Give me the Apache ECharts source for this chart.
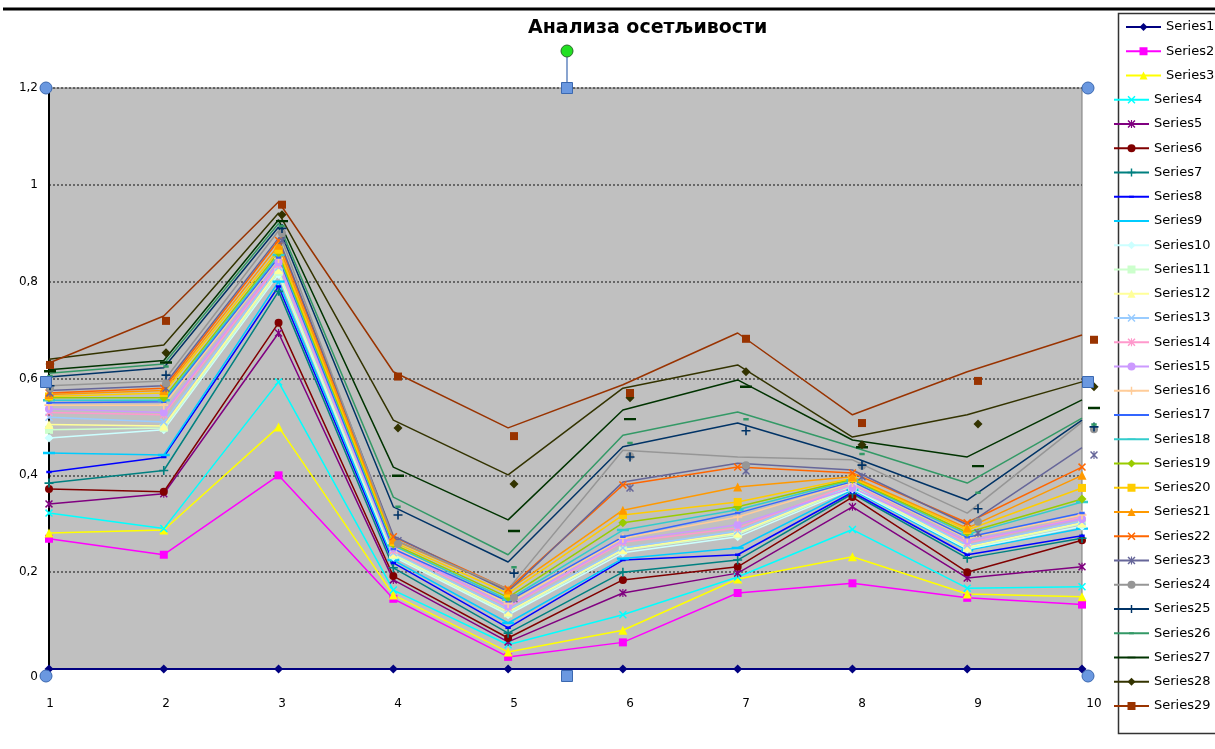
<!DOCTYPE html>
<html>
<head>
<meta charset="utf-8">
<script src="https://cdn.jsdelivr.net/npm/echarts@6/dist/echarts.min.js"></script>
<style>
  html, body { margin: 0; padding: 0; background: #fff; }
  #chart { width: 1215px; height: 749px; }
</style>
</head>
<body>
<div id="chart"></div>
<script>
// ---- data ----
const categories = ['1', '2', '3', '4', '5', '6', '7', '8', '9', '10'];
const chartTitle = 'Анализа осетљивости';

// line values, one array per series
const s1  = [0, 0, 0, 0, 0, 0, 0, 0, 0, 0];
const s2  = [0.269, 0.236, 0.400, 0.145, 0.025, 0.055, 0.157, 0.177, 0.147, 0.133];
const s3  = [0.281, 0.287, 0.500, 0.153, 0.035, 0.080, 0.186, 0.232, 0.155, 0.149];
const s4  = [0.322, 0.290, 0.593, 0.163, 0.050, 0.112, 0.190, 0.288, 0.167, 0.170];
const s5  = [0.341, 0.362, 0.694, 0.184, 0.056, 0.157, 0.198, 0.335, 0.188, 0.211];
const s6  = [0.372, 0.366, 0.715, 0.192, 0.064, 0.184, 0.211, 0.355, 0.200, 0.266];
const s7  = [0.384, 0.410, 0.780, 0.209, 0.074, 0.200, 0.225, 0.362, 0.229, 0.270];
const s8  = [0.407, 0.438, 0.790, 0.219, 0.085, 0.225, 0.236, 0.365, 0.236, 0.275];
const s9  = [0.446, 0.442, 0.800, 0.225, 0.095, 0.228, 0.250, 0.370, 0.245, 0.290];
const s10 = [0.477, 0.494, 0.815, 0.232, 0.112, 0.240, 0.273, 0.372, 0.248, 0.295];
const s11 = [0.494, 0.498, 0.820, 0.235, 0.115, 0.245, 0.278, 0.375, 0.250, 0.300];
const s12 = [0.505, 0.502, 0.825, 0.238, 0.118, 0.247, 0.281, 0.378, 0.252, 0.302];
const s13 = [0.520, 0.510, 0.830, 0.240, 0.122, 0.250, 0.285, 0.380, 0.255, 0.305];
const s14 = [0.530, 0.525, 0.835, 0.245, 0.128, 0.262, 0.291, 0.382, 0.260, 0.314];
const s15 = [0.537, 0.530, 0.840, 0.250, 0.130, 0.265, 0.298, 0.374, 0.265, 0.310];
const s16 = [0.545, 0.545, 0.848, 0.253, 0.135, 0.270, 0.314, 0.385, 0.270, 0.318];
const s17 = [0.550, 0.552, 0.850, 0.248, 0.140, 0.273, 0.322, 0.387, 0.272, 0.322];
const s18 = [0.555, 0.555, 0.855, 0.255, 0.143, 0.287, 0.329, 0.390, 0.278, 0.345];
const s19 = [0.560, 0.560, 0.860, 0.258, 0.148, 0.302, 0.335, 0.392, 0.282, 0.351];
const s20 = [0.563, 0.570, 0.866, 0.262, 0.156, 0.318, 0.345, 0.394, 0.287, 0.374];
const s21 = [0.567, 0.575, 0.875, 0.267, 0.163, 0.328, 0.376, 0.397, 0.291, 0.400];
const s22 = [0.570, 0.580, 0.885, 0.273, 0.165, 0.380, 0.417, 0.405, 0.302, 0.417];
const s23 = [0.575, 0.585, 0.890, 0.275, 0.160, 0.386, 0.425, 0.411, 0.298, 0.457];
const s24 = [0.585, 0.595, 0.905, 0.268, 0.165, 0.452, 0.438, 0.432, 0.322, 0.510];
const s25 = [0.603, 0.622, 0.913, 0.335, 0.221, 0.459, 0.508, 0.438, 0.349, 0.514];
const s26 = [0.611, 0.630, 0.920, 0.355, 0.236, 0.483, 0.531, 0.459, 0.384, 0.518];
const s27 = [0.618, 0.637, 0.928, 0.417, 0.308, 0.535, 0.597, 0.473, 0.438, 0.556];
const s28 = [0.640, 0.669, 0.942, 0.514, 0.401, 0.580, 0.628, 0.479, 0.525, 0.593];
const s29 = [0.632, 0.729, 0.965, 0.614, 0.498, 0.587, 0.694, 0.525, 0.614, 0.690];

// marker values of series 23–29, plotted on the second axis pair
const m23 = [0.570, 0.580, 0.885, 0.265, 0.145, 0.374, 0.409, 0.397, 0.281, 0.442];
const m24 = [0.580, 0.590, 0.900, 0.258, 0.147, 0.440, 0.421, 0.420, 0.304, 0.495];
const m25 = [0.585, 0.607, 0.910, 0.318, 0.198, 0.438, 0.492, 0.421, 0.331, 0.500];
const m26 = [0.605, 0.625, 0.915, 0.335, 0.210, 0.467, 0.516, 0.444, 0.364, 0.505];
const m27 = [0.615, 0.633, 0.925, 0.399, 0.285, 0.516, 0.583, 0.458, 0.419, 0.539];
const m28 = [0.630, 0.653, 0.938, 0.498, 0.382, 0.560, 0.614, 0.463, 0.506, 0.583];
const m29 = [0.628, 0.719, 0.959, 0.604, 0.481, 0.570, 0.682, 0.508, 0.595, 0.680];

const lineSets = [s1, s2, s3, s4, s5, s6, s7, s8, s9, s10, s11, s12, s13, s14, s15,
  s16, s17, s18, s19, s20, s21, s22, s23, s24, s25, s26, s27, s28, s29];
const markerSets = [m23, m24, m25, m26, m27, m28, m29];
const firstMarkerSeries = 23;

// ---- styles ----
const colors = ['#000080', '#FF00FF', '#FFFF00', '#00FFFF', '#800080', '#800000', '#008080',
  '#0000FF', '#00CCFF', '#CCFFFF', '#CCFFCC', '#FFFF99', '#99CCFF', '#FF99CC', '#CC99FF',
  '#FFCC99', '#3366FF', '#33CCCC', '#99CC00', '#FFCC00', '#FF9900', '#FF6600', '#666699',
  '#969696', '#003366', '#339966', '#003300', '#333300', '#993300'];

const X_PATH = 'path://M0,1.3L1.3,0L5,3.7L8.7,0L10,1.3L6.3,5L10,8.7L8.7,10L5,6.3L1.3,10L0,8.7L3.7,5Z';
const STAR_PATH = X_PATH.replace('Z', 'Z') + 'M4.3,0L5.7,0L5.7,10L4.3,10Z';
const PLUS_PATH = 'path://M4.1,0L5.9,0L5.9,4.1L10,4.1L10,5.9L5.9,5.9L5.9,10L4.1,10L4.1,5.9L0,5.9L0,4.1L4.1,4.1Z';
const DASH_PATH = 'path://M0,0L0,0ZM2,3.6L8,3.6L8,6.4L2,6.4ZM10,10L10,10Z';
const LDASH_PATH = 'path://M0,0L0,0ZM0,4L10,4L10,6L0,6ZM10,10L10,10Z';

const markerCycle = [
  { symbol: 'diamond', size: 9 },
  { symbol: 'rect', size: 8 },
  { symbol: 'triangle', size: 9 },
  { symbol: X_PATH, size: 8 },
  { symbol: STAR_PATH, size: 8 },
  { symbol: 'circle', size: 8 },
  { symbol: PLUS_PATH, size: 9 },
  { symbol: DASH_PATH, size: 9 },
  { symbol: LDASH_PATH, size: 12 }
];

const FONT = 'DejaVu Sans';
const names = lineSets.map((_, i) => 'Series' + (i + 1));

// ---- series ----
const series = [];
lineSets.forEach((vals, i) => {
  const mk = markerCycle[i % markerCycle.length];
  const offset = (i + 1) >= firstMarkerSeries;
  series.push({
    name: names[i],
    type: 'line',
    xAxisIndex: 0,
    yAxisIndex: 0,
    data: vals,
    symbol: mk.symbol,
    symbolSize: mk.size,
    showSymbol: !offset,
    showAllSymbol: true,
    clip: false,
    color: colors[i],
    lineStyle: { width: i === 0 ? 2 : 1.5, color: colors[i] },
    itemStyle: { color: colors[i] },
    emphasis: { disabled: true },
    animation: false
  });
});
markerSets.forEach((vals, j) => {
  const i = firstMarkerSeries - 1 + j;
  const mk = markerCycle[i % markerCycle.length];
  series.push({
    name: names[i],
    type: 'scatter',
    xAxisIndex: 1,
    yAxisIndex: 1,
    data: vals,
    symbol: mk.symbol,
    symbolSize: mk.size,
    clip: false,
    z: 3,
    itemStyle: { color: colors[i], opacity: 1 },
    emphasis: { disabled: true },
    animation: false
  });
});

// ---- selection handles around the plot area ----
const handleFill = '#6a98e0';
const handleStroke = '#3b68b0';
const handles = [];
[[46, 88], [1088, 88], [46, 676], [1088, 676]].forEach(p => handles.push({
  type: 'circle', z: 100, shape: { cx: p[0], cy: p[1], r: 6 },
  style: { fill: handleFill, stroke: handleStroke, lineWidth: 1 }
}));
[[567, 88], [46, 382], [1088, 382], [567, 676]].forEach(p => handles.push({
  type: 'rect', z: 100, shape: { x: p[0] - 5.5, y: p[1] - 5.5, width: 11, height: 11 },
  style: { fill: handleFill, stroke: handleStroke, lineWidth: 1 }
}));
handles.push({ type: 'line', z: 100, shape: { x1: 567, y1: 57, x2: 567, y2: 83 },
  style: { stroke: handleStroke, lineWidth: 1.2 } });
handles.push({ type: 'circle', z: 100, shape: { cx: 567, cy: 51, r: 6 },
  style: { fill: '#22e022', stroke: '#2a6a2a', lineWidth: 1 } });

const legendCommon = {
  orient: 'vertical',
  padding: 0,
  itemWidth: 35,
  itemHeight: 10,
  itemGap: 10.25,
  selectedMode: false,
  textStyle: { fontFamily: FONT, fontSize: 13, color: '#000', lineHeight: 14 }
};

const option = {
  backgroundColor: '#fff',
  animation: false,
  title: {
    text: chartTitle,
    left: 528,
    top: 19,
    padding: 0,
    textStyle: { fontFamily: FONT, fontWeight: 'bold', fontSize: 19, color: '#000' }
  },
  legend: [
    Object.assign({}, legendCommon, { left: 1125, top: 20, data: names.slice(0, 3) }),
    Object.assign({}, legendCommon, { left: 1113, top: 92.75, data: names.slice(3) })
  ],
  grid: [
    { left: 49, top: 88, width: 1033, height: 581, show: true,
      backgroundColor: '#c0c0c0', borderColor: '#7a7a7a', borderWidth: 1 },
    { left: 50, top: 88, width: 1044, height: 581, show: false }
  ],
  xAxis: [
    { type: 'category', gridIndex: 0, data: categories, boundaryGap: false,
      axisLine: { show: false }, axisTick: { show: false },
      axisLabel: { show: false }, splitLine: { show: false } },
    { type: 'category', gridIndex: 1, data: categories, boundaryGap: false,
      axisLine: { show: false }, axisTick: { show: false }, splitLine: { show: false },
      axisLabel: { interval: 0, margin: 29, fontFamily: FONT, fontSize: 12, color: '#000' } }
  ],
  yAxis: [
    { type: 'value', gridIndex: 0, min: 0, max: 1.2, interval: 0.2,
      axisLine: { show: true, lineStyle: { color: '#000', width: 2 } },
      axisTick: { show: false },
      axisLabel: {
        margin: 11, fontFamily: FONT, fontSize: 12, color: '#000',
        formatter: v => {
          const t = (Math.round(v * 10) / 10).toString().replace('.', ',');
          return v === 0 ? '{low|' + t + '}' : t;
        },
        rich: { low: { fontFamily: FONT, fontSize: 12, color: '#000', padding: [16, 0, 0, 0] } }
      },
      splitLine: { show: true, lineStyle: { color: '#4a4a4a', width: 1.5, type: [2, 2] } } },
    { type: 'value', gridIndex: 1, min: 0, max: 1.2, show: false }
  ],
  graphic: [
    { type: 'line', z: 50, shape: { x1: 3, y1: 9, x2: 1215, y2: 9 },
      style: { stroke: '#000', lineWidth: 3 } },
    { type: 'rect', z: 0, shape: { x: 1118.5, y: 13.5, width: 130, height: 720 },
      style: { fill: '#fff', stroke: '#333', lineWidth: 1.5 } }
  ].concat(handles),
  series: series
};

const chart = echarts.init(document.getElementById('chart'), null, { renderer: 'canvas' });
chart.setOption(option);
</script>
</body>
</html>
